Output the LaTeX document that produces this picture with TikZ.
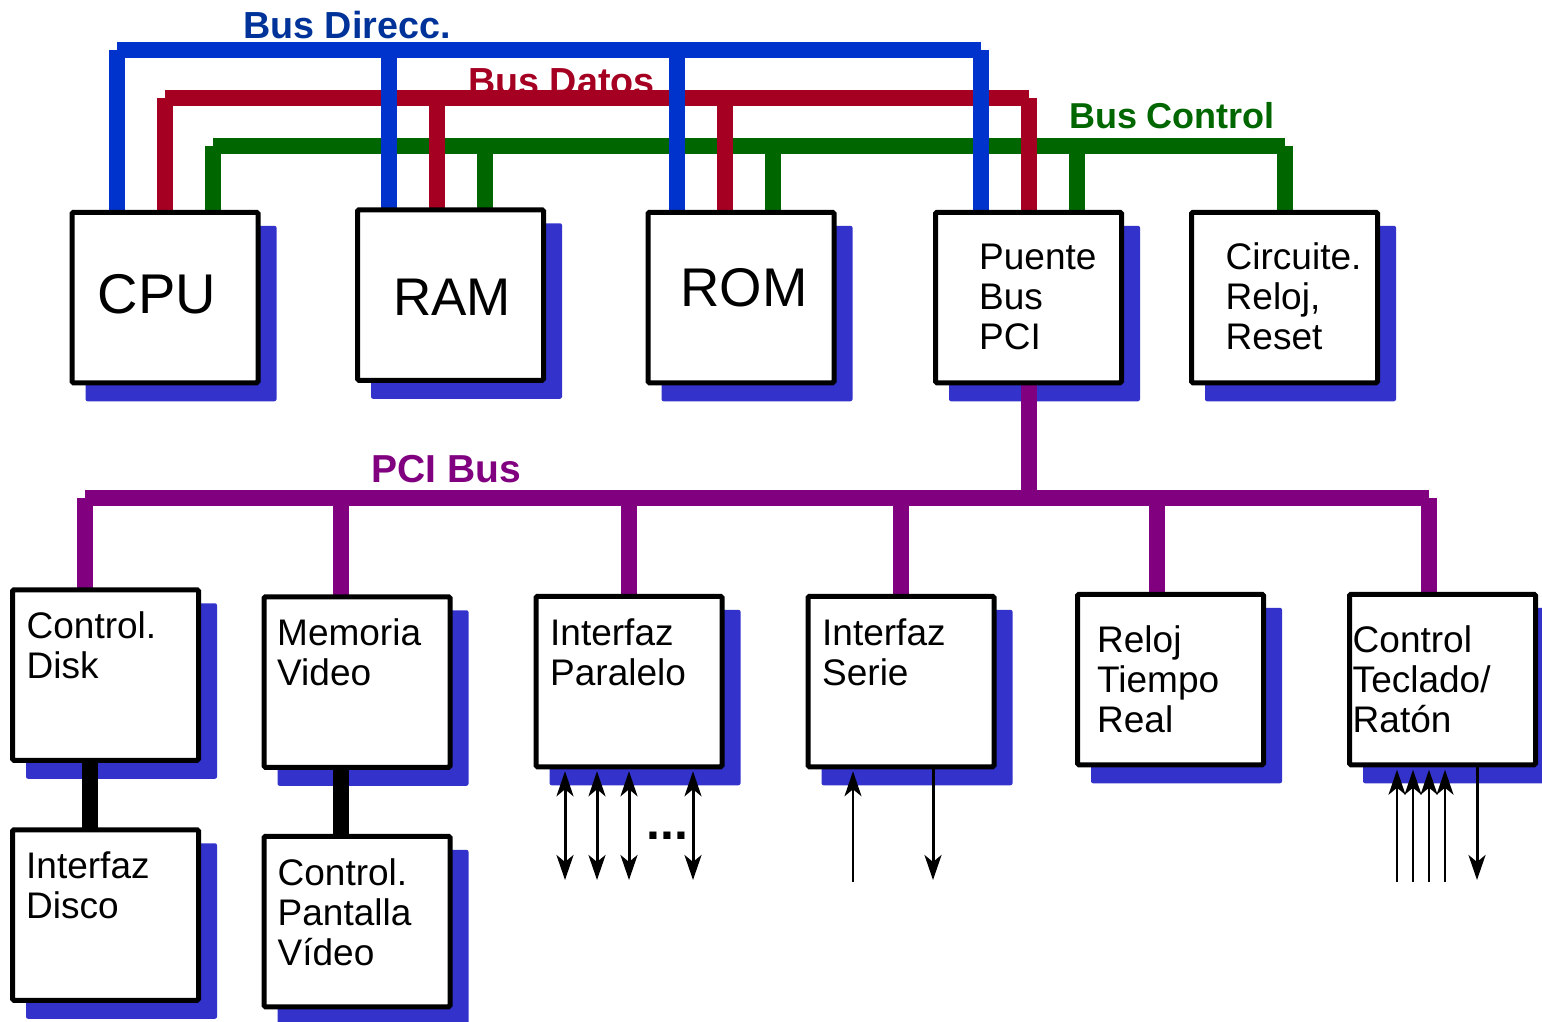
\documentclass[tikz,border=0pt]{standalone}
\usepackage{fontspec}
\setmainfont{Liberation Sans}
\usetikzlibrary{arrows.meta}

\definecolor{addrblue}{HTML}{0033CC}
\definecolor{addrtext}{HTML}{003399}
\definecolor{datared}{HTML}{A50021}
\definecolor{ctrlgreen}{HTML}{006600}
\definecolor{pcipurple}{HTML}{800080}
\definecolor{shadowblue}{HTML}{3333CC}

\pgfdeclarelayer{shadowlayer}
\pgfdeclarelayer{buslayer}
\pgfsetlayers{shadowlayer,buslayer,main}

\begin{document}
\begin{tikzpicture}[x=1pt,y=-1pt,
  unit/.style={draw=black, fill=white, line width=5pt, rounded corners=1.5pt,
    minimum width=186pt, minimum height=170.5pt, inner sep=0pt, outer sep=0pt},
  unitshadow/.style={fill=shadowblue, rounded corners=2pt},
  % multi-line labels: the base anchor sits on the last line
  lbl/.style={font=\fontsize{37}{40}\selectfont, align=left, anchor=base west, inner sep=0pt},
  biglbl/.style={anchor=base, inner sep=0pt},
  buslbl/.style={font=\fontsize{37.7}{40}\selectfont\bfseries, anchor=base, inner sep=0pt},
  bus/.style={line width=16pt, line cap=butt},
  addrbus/.style={bus, draw=addrblue},
  databus/.style={bus, draw=datared},
  ctrlbus/.style={bus, draw=ctrlgreen},
  pcibus/.style={bus, draw=pcipurple},
  link/.style={line width=16pt, draw=black},
  sigout/.style={line width=3pt, -{Stealth[length=25pt,width=17pt,inset=7pt]}},
  sigin/.style={line width=2.2pt, -{Stealth[length=25pt,width=17pt,inset=7pt]}},
  bidir/.style={line width=3pt, {Stealth[length=25pt,width=17pt,inset=7pt]}-{Stealth[length=25pt,width=17pt,inset=7pt]}}
]
\useasboundingbox (0,0) rectangle (1542,1021);

% ---- units ----
\node[unit] (cpu)    at (165,297.5)    {};
\node[unit] (ram)    at (450.5,295)    {};
\node[unit] (rom)    at (741,297.5)    {};
\node[unit] (bridge) at (1028.5,297.5) {};
\node[unit] (clk)    at (1284.5,297.5) {};

\node[unit] (disk)   at (105.5,675)    {};
\node[unit] (fdisk)  at (105.5,915)    {};
\node[unit] (vmem)   at (357,682)      {};
\node[unit] (vctl)   at (357,921.5)    {};
\node[unit] (par)    at (629,681.5)    {};
\node[unit] (ser)    at (901,681.5)    {};
\node[unit] (rtc)    at (1170.5,679.5) {};
\node[unit] (kbd)    at (1442.5,679.5) {};

% ---- labels inside units ----
\node[biglbl, font=\fontsize{56}{60}\selectfont]   (cpu-t) at (157,313) {CPU};
\node[biglbl, font=\fontsize{53}{60}\selectfont]   (ram-t) at (452,315) {RAM};
\node[biglbl, font=\fontsize{54.5}{60}\selectfont] (rom-t) at (744,306) {ROM};
\node[lbl] (bridge-t) at (979,349)  {Puente\\Bus\\PCI};
\node[lbl] (clk-t)    at (1225.5,349) {Circuite.\\Reloj,\\Reset};
\node[lbl] (disk-t)   at (26.5,678) {Control.\\Disk};
\node[lbl] (fdisk-t)  at (26,918)   {Interfaz\\Disco};
\node[lbl] (vmem-t)   at (277,685)  {Memoria\\Video};
\node[lbl] (vctl-t)   at (277.5,965) {Control.\\Pantalla\\Vídeo};
\node[lbl] (par-t)    at (550,685)  {Interfaz\\Paralelo};
\node[lbl] (ser-t)    at (822,685)  {Interfaz\\Serie};
\node[lbl] (rtc-t)    at (1097,732) {Reloj\\Tiempo\\Real};
\node[lbl] (kbd-t)    at (1352.5,732) {Control\\Teclado/\\Ratón};

% ---- shadows and bus names ----
\begin{pgfonlayer}{shadowlayer}
  \foreach \n in {cpu,ram,rom,bridge,clk,disk,fdisk,vmem,vctl,par,ser,rtc,kbd}
    \fill[unitshadow] ([shift={(13.5,13.5)}]\n.north west) rectangle ([shift={(18.5,18.5)}]\n.south east);
  \node[buslbl, text=addrtext] (addr-t) at (347,38) {Bus Direcc.};
  \node[buslbl, text=datared]  (data-t) at (561.5,94) {Bus Datos};
  \node[buslbl, text=ctrlgreen, font=\fontsize{36}{40}\selectfont\bfseries] (ctrl-t) at (1172,128) {Bus Control};
  \node[buslbl, text=pcipurple, font=\fontsize{39}{40}\selectfont\bfseries] (pci-t) at (446.5,482) {PCI Bus};
\end{pgfonlayer}

% ---- system buses ----
\coordinate (abus-l) at (117,50);   \coordinate (abus-r) at (981,50);
\coordinate (dbus-l) at (165,98);   \coordinate (dbus-r) at (1029,98);
\coordinate (cbus-l) at (213,146);  \coordinate (cbus-r) at (1285,146);
\coordinate (pbus-l) at (85,498);   \coordinate (pbus-r) at (1429,498);

\begin{pgfonlayer}{buslayer}
  % control bus
  \draw[ctrlbus] (cbus-l) -- (cbus-r);
  \foreach \n/\x in {cpu/213,ram/485,rom/773,bridge/1077,clk/1285}
    \draw[ctrlbus] (\n.north -| \x,0) -- (cbus-l -| \x,0);
  % data bus
  \draw[databus] (dbus-l) -- (dbus-r);
  \foreach \n/\x in {cpu/165,ram/437,rom/725,bridge/1029}
    \draw[databus] (\n.north -| \x,0) -- (dbus-l -| \x,0);
  % address bus
  \draw[addrbus] (abus-l) -- (abus-r);
  \foreach \n/\x in {cpu/117,ram/389,rom/677,bridge/981}
    \draw[addrbus] (\n.north -| \x,0) -- (abus-l -| \x,0);
  % PCI bus
  \draw[pcibus] (pbus-l) -- (pbus-r);
  \draw[pcibus] (bridge.south -| dbus-r) -- (pbus-l -| dbus-r);
  \foreach \n/\x in {disk/85,vmem/341,par/629,ser/901,rtc/1157,kbd/1429}
    \draw[pcibus] (\n.north -| \x,0) -- (pbus-l -| \x,0);
  % local links
  \draw[link] (disk.south -| 89.5,0) -- (fdisk.north -| 89.5,0);
  \draw[link] (vmem.south -| 341,0) -- (vctl.north -| 341,0);
\end{pgfonlayer}

% ---- external signal lines ----
\foreach \x [count=\i] in {565,597,629,693} {
  \coordinate (par-io\i) at (\x,880);
  \draw[bidir, shorten >=4.5pt] (par-io\i) -- (par.south -| par-io\i);
}
\node[font=\fontsize{50}{50}\selectfont\bfseries, anchor=base west, inner sep=0pt] (par-dots) at (646,839) {...};

\coordinate (ser-in)  at (853,882);
\coordinate (ser-out) at (933,880);
\draw[sigin, shorten >=4.5pt] (ser-in) -- (ser.south -| ser-in);
\draw[sigout] (ser.south -| ser-out) -- (ser-out);

\foreach \x [count=\i] in {1397,1413,1429,1445} {
  \coordinate (kbd-in\i) at (\x,882);
  \draw[sigin, shorten >=5pt] (kbd-in\i) -- (kbd.south -| kbd-in\i);
}
\coordinate (kbd-out) at (1477,880);
\draw[sigout] (kbd.south -| kbd-out) -- (kbd-out);

\end{tikzpicture}
\end{document}
